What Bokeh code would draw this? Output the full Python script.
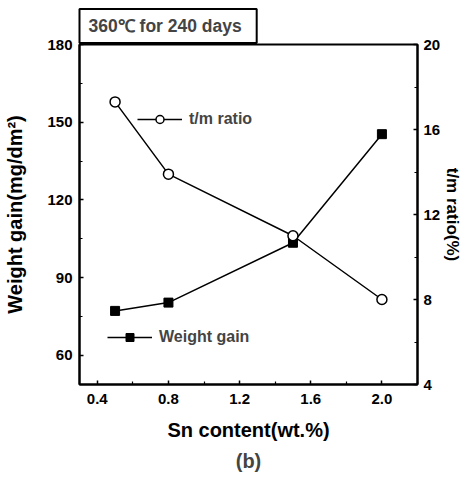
import math
from bokeh.plotting import figure
from bokeh.models import LinearAxis, Range1d, FixedTicker, Title, Legend, LegendItem, PrintfTickFormatter
from bokeh.embed import file_html
from bokeh.resources import INLINE

# data
sn_content = [0.5, 0.8, 1.5, 2.0]
weight_gain = [77.2, 80.4, 103.5, 145.4]
tm_ratio = [17.3, 13.9, 11.0, 8.0]

x_ticks = [0.4, 0.8, 1.2, 1.6, 2.0]
x_minor = [0.6, 1.0, 1.4, 1.8, 2.2]
left_ticks = [60, 90, 120, 150, 180]
left_minor = [75, 105, 135, 165]
right_ticks = [4, 8, 12, 16, 20]
right_minor = [6, 10, 14, 18]

FONT = "Liberation Sans"

p = figure(width=470, height=484, x_range=Range1d(0.3, 2.2), y_range=Range1d(48.8, 180),
           output_backend="svg", toolbar_location=None, title=None,
           min_border_left=79, min_border_right=53, min_border_top=44, min_border_bottom=100)
p.extra_y_ranges = {"tm": Range1d(4, 20)}
p.xgrid.visible = False
p.ygrid.visible = False
p.outline_line_color = "black"
p.outline_line_width = 2
p.background_fill_color = "white"
p.border_fill_color = "white"

def style_axis(ax, ticks, minor):
    ax.ticker = FixedTicker(ticks=ticks, minor_ticks=minor)
    ax.axis_line_color = "black"
    ax.axis_line_width = 2
    ax.major_tick_in = 4
    ax.major_tick_out = 0
    ax.minor_tick_in = 3
    ax.minor_tick_out = 0
    ax.major_tick_line_width = 1.5
    ax.minor_tick_line_width = 1.2
    ax.major_label_text_font = FONT
    ax.major_label_text_font_style = "bold"
    ax.major_label_text_font_size = "15px"
    ax.major_label_text_color = "black"
    ax.axis_label_text_font = FONT
    ax.axis_label_text_font_style = "bold"
    ax.axis_label_text_font_size = "20px"
    ax.axis_label_text_color = "black"

style_axis(p.xaxis[0], x_ticks, x_minor)
p.xaxis[0].formatter = PrintfTickFormatter(format="%.1f")
p.xaxis[0].axis_label = "Sn content(wt.%)"
p.xaxis[0].major_label_standoff = 9
p.xaxis[0].axis_label_standoff = 12

style_axis(p.yaxis[0], left_ticks, left_minor)
p.yaxis[0].axis_label = "Weight gain(mg/dm²)"
p.yaxis[0].major_label_standoff = 7
p.yaxis[0].axis_label_standoff = 18

raxis = LinearAxis(y_range_name="tm")
style_axis(raxis, right_ticks, right_minor)
raxis.major_label_standoff = 6
raxis.axis_label = "t/m ratio(%)"
raxis.axis_label_standoff = 0
raxis.axis_label_text_font_size = "17px"
p.add_layout(raxis, "right")

# series
l_wg = p.line(sn_content, weight_gain, line_color="black", line_width=1.5)
s_wg = p.scatter(sn_content, weight_gain, marker="square", size=9, fill_color="black", line_color="black")
l_tm = p.line(sn_content, tm_ratio, y_range_name="tm", line_color="black", line_width=1.5)
s_tm = p.scatter(sn_content, tm_ratio, y_range_name="tm", marker="circle", size=10,
                 fill_color="white", line_color="black", line_width=1.5)

def make_legend(label, rends, loc):
    lg = Legend(items=[LegendItem(label=label, renderers=rends)], location=loc,
                padding=0, margin=0, glyph_width=45, glyph_height=20, label_standoff=7,
                label_text_font=FONT, label_text_font_style="bold", label_text_font_size="16px",
                label_height=20, border_line_color=None, background_fill_alpha=0)
    p.add_layout(lg)

make_legend("t/m ratio", [l_tm, s_tm], (58, 255))
make_legend("Weight gain", [l_wg, s_wg], (28, 37))

# boxed title above the frame
p.add_layout(Title(text="360℃ for 240 days", align="left", offset=0, standoff=3,
                   text_font=FONT, text_font_style="bold", text_font_size="17.5px",
                   padding=dict(left=9, right=15, top=7, bottom=7),
                   border_line_color="black", border_line_width=2,
                   background_fill_color="white"), "above")

# panel label below
p.add_layout(Title(text="(b)", align="center", standoff=9,
                   text_font=FONT, text_font_style="bold", text_font_size="20px"), "below")

open("out.html", "w").write(file_html(p, INLINE))
